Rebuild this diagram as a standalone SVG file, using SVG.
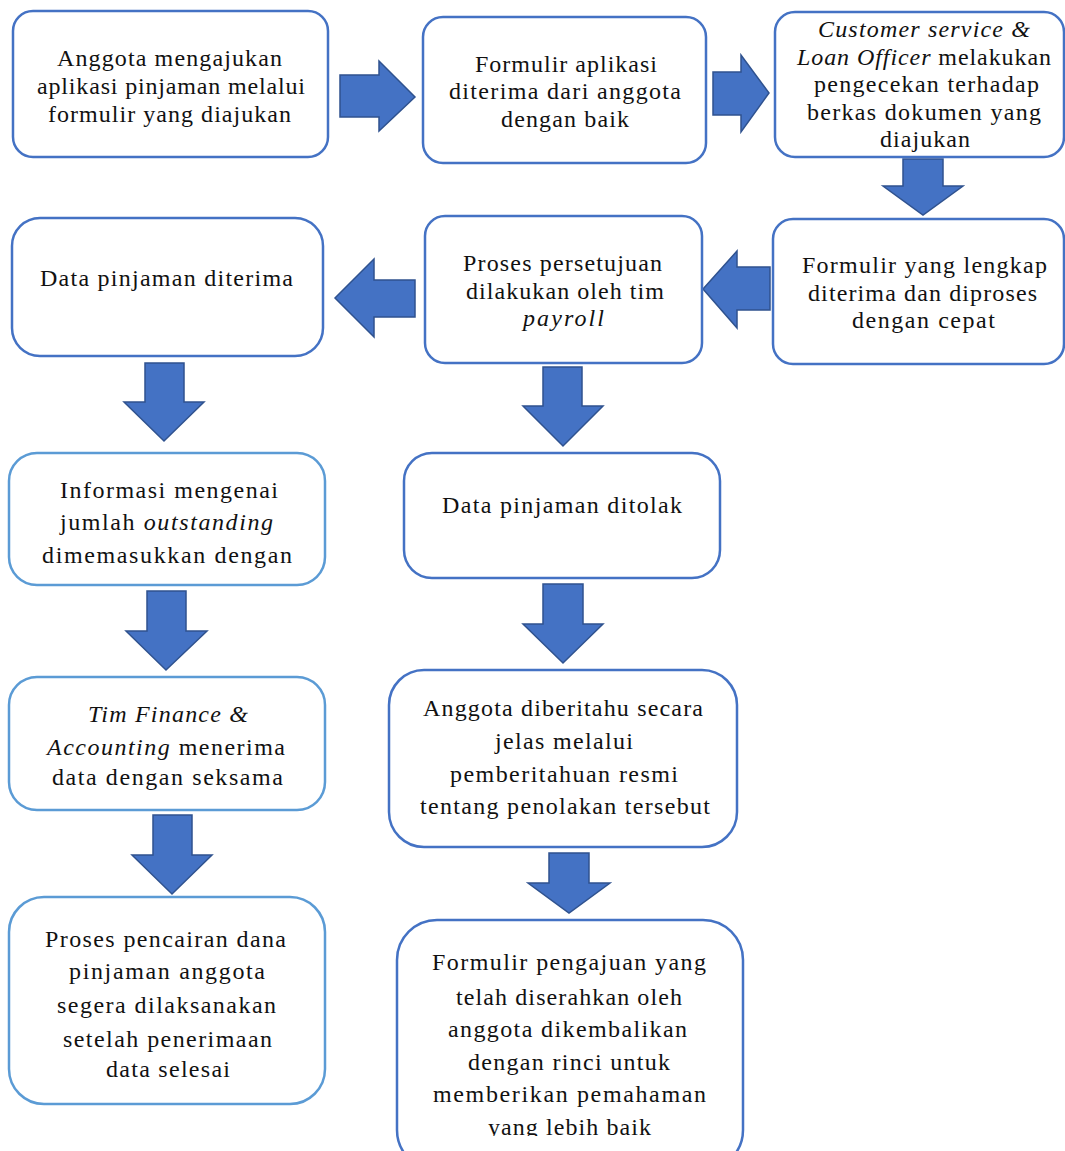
<svg xmlns="http://www.w3.org/2000/svg" width="1065" height="1151" viewBox="0 0 1065 1151">
<style>
.box{fill:#ffffff;stroke:#4472C4;stroke-width:2.5}
.lt{stroke:#5B9BD5}
.arr{fill:#4472C4;stroke:#2F528F;stroke-width:1.5;stroke-linejoin:miter}
text{font-family:"Liberation Serif","Times New Roman",serif;font-size:24px;fill:#111111}
.i{font-style:italic}
</style>
<defs>
<clipPath id="clipLast"><rect x="390" y="900" width="360" height="236"/></clipPath>
</defs>
<rect width="1065" height="1151" fill="#ffffff"/>
<g id="connectors">
<path class="arr" d="M340,75 H379 V61 L415,97 L379,131 V117 H340 Z"/>
<path class="arr" d="M713,72 H741 V55 L769,93 L741,132 V115 H713 Z"/>
<path class="arr" d="M903,159 H943 V186 H963 L923,215 L883,186 H903 Z"/>
<path class="arr" d="M770,267 H737 V251 L703,289 L737,328 V310 H770 Z"/>
<path class="arr" d="M415,280 H374 V259 L335,298 L374,337 V317 H415 Z"/>
<path class="arr" d="M145,363 H184 V402 H204 L164,441 L124,402 H145 Z"/>
<path class="arr" d="M543,367 H582 V406 H603 L563,446 L523,406 H543 Z"/>
<path class="arr" d="M147,591 H186 V631 H207 L166,670 L126,631 H147 Z"/>
<path class="arr" d="M543,584 H583 V624 H603 L563,663 L523,624 H543 Z"/>
<path class="arr" d="M153,815 H192 V855 H212 L172,894 L132,855 H153 Z"/>
<path class="arr" d="M549,853 H589 V883 H610 L569,913 L528,883 H549 Z"/>
</g>
<g id="n1">
<rect class="box" x="13" y="11" width="315" height="146" rx="20"/>
<text x="57" y="66" textLength="225" lengthAdjust="spacing">Anggota mengajukan</text>
<text x="37" y="94" textLength="268" lengthAdjust="spacing">aplikasi pinjaman melalui</text>
<text x="48" y="122" textLength="243" lengthAdjust="spacing">formulir yang diajukan</text>
</g>
<g id="n2">
<rect class="box" x="423" y="17" width="283" height="146" rx="20"/>
<text x="475" y="72" textLength="182" lengthAdjust="spacing">Formulir aplikasi</text>
<text x="449" y="99" textLength="232" lengthAdjust="spacing">diterima dari anggota</text>
<text x="501" y="127" textLength="128" lengthAdjust="spacing">dengan baik</text>
</g>
<g id="n3">
<rect class="box" x="775" y="12" width="289" height="145" rx="20"/>
<text x="818" y="37" textLength="212" lengthAdjust="spacing" class="i">Customer service &amp;</text>
<text x="797" y="65" textLength="254" lengthAdjust="spacing"><tspan class="i">Loan Officer</tspan> melakukan</text>
<text x="814" y="92" textLength="225" lengthAdjust="spacing">pengecekan terhadap</text>
<text x="807" y="120" textLength="234" lengthAdjust="spacing">berkas dokumen yang</text>
<text x="880" y="147" textLength="90" lengthAdjust="spacing">diajukan</text>
</g>
<g id="n4">
<rect class="box" x="773" y="219" width="291" height="145" rx="20"/>
<text x="802" y="273" textLength="245" lengthAdjust="spacing">Formulir yang lengkap</text>
<text x="808" y="301" textLength="229" lengthAdjust="spacing">diterima dan diproses</text>
<text x="852" y="328" textLength="143" lengthAdjust="spacing">dengan cepat</text>
</g>
<g id="n5">
<rect class="box" x="425" y="216" width="277" height="147" rx="20"/>
<text x="463" y="271" textLength="199" lengthAdjust="spacing">Proses persetujuan</text>
<text x="466" y="299" textLength="198" lengthAdjust="spacing">dilakukan oleh tim</text>
<text x="523" y="326" textLength="81" lengthAdjust="spacing" class="i">payroll</text>
</g>
<g id="n6">
<rect class="box" x="12" y="218" width="311" height="138" rx="28"/>
<text x="40" y="286" textLength="253" lengthAdjust="spacing">Data pinjaman diterima</text>
</g>
<g id="n7">
<rect class="box lt" x="9" y="453" width="316" height="132" rx="28"/>
<text x="60" y="498" textLength="218" lengthAdjust="spacing">Informasi mengenai</text>
<text x="60" y="530" textLength="213" lengthAdjust="spacing">jumlah <tspan class="i">outstanding</tspan></text>
<text x="42" y="563" textLength="250" lengthAdjust="spacing">dimemasukkan dengan</text>
</g>
<g id="n8">
<rect class="box" x="404" y="453" width="316" height="125" rx="28"/>
<text x="442" y="513" textLength="240" lengthAdjust="spacing">Data pinjaman ditolak</text>
</g>
<g id="n9">
<rect class="box lt" x="9" y="677" width="316" height="133" rx="28"/>
<text x="88" y="722" textLength="160" lengthAdjust="spacing" class="i">Tim Finance &amp;</text>
<text x="47" y="755" textLength="238" lengthAdjust="spacing"><tspan class="i">Accounting</tspan> menerima</text>
<text x="52" y="785" textLength="231" lengthAdjust="spacing">data dengan seksama</text>
</g>
<g id="n10">
<rect class="box" x="389" y="670" width="348" height="177" rx="35"/>
<text x="423" y="716" textLength="280" lengthAdjust="spacing">Anggota diberitahu secara</text>
<text x="495" y="749" textLength="138" lengthAdjust="spacing">jelas melalui</text>
<text x="450" y="782" textLength="228" lengthAdjust="spacing">pemberitahuan resmi</text>
<text x="420" y="814" textLength="290" lengthAdjust="spacing">tentang penolakan tersebut</text>
</g>
<g id="n11">
<rect class="box lt" x="9" y="897" width="316" height="207" rx="35"/>
<text x="45" y="947" textLength="241" lengthAdjust="spacing">Proses pencairan dana</text>
<text x="69" y="979" textLength="196" lengthAdjust="spacing">pinjaman anggota</text>
<text x="57" y="1013" textLength="219" lengthAdjust="spacing">segera dilaksanakan</text>
<text x="63" y="1047" textLength="209" lengthAdjust="spacing">setelah penerimaan</text>
<text x="106" y="1077" textLength="124" lengthAdjust="spacing">data selesai</text>
</g>
<g id="n12">
<rect class="box" x="397" y="920" width="346" height="250" rx="40"/>
<g clip-path="url(#clipLast)">
<text x="432" y="970" textLength="274" lengthAdjust="spacing">Formulir pengajuan yang</text>
<text x="456" y="1005" textLength="226" lengthAdjust="spacing">telah diserahkan oleh</text>
<text x="448" y="1037" textLength="239" lengthAdjust="spacing">anggota dikembalikan</text>
<text x="468" y="1070" textLength="202" lengthAdjust="spacing">dengan rinci untuk</text>
<text x="433" y="1102" textLength="273" lengthAdjust="spacing">memberikan pemahaman</text>
<text x="488" y="1135" textLength="163" lengthAdjust="spacing">yang lebih baik</text>
</g>
</g>
</svg>
